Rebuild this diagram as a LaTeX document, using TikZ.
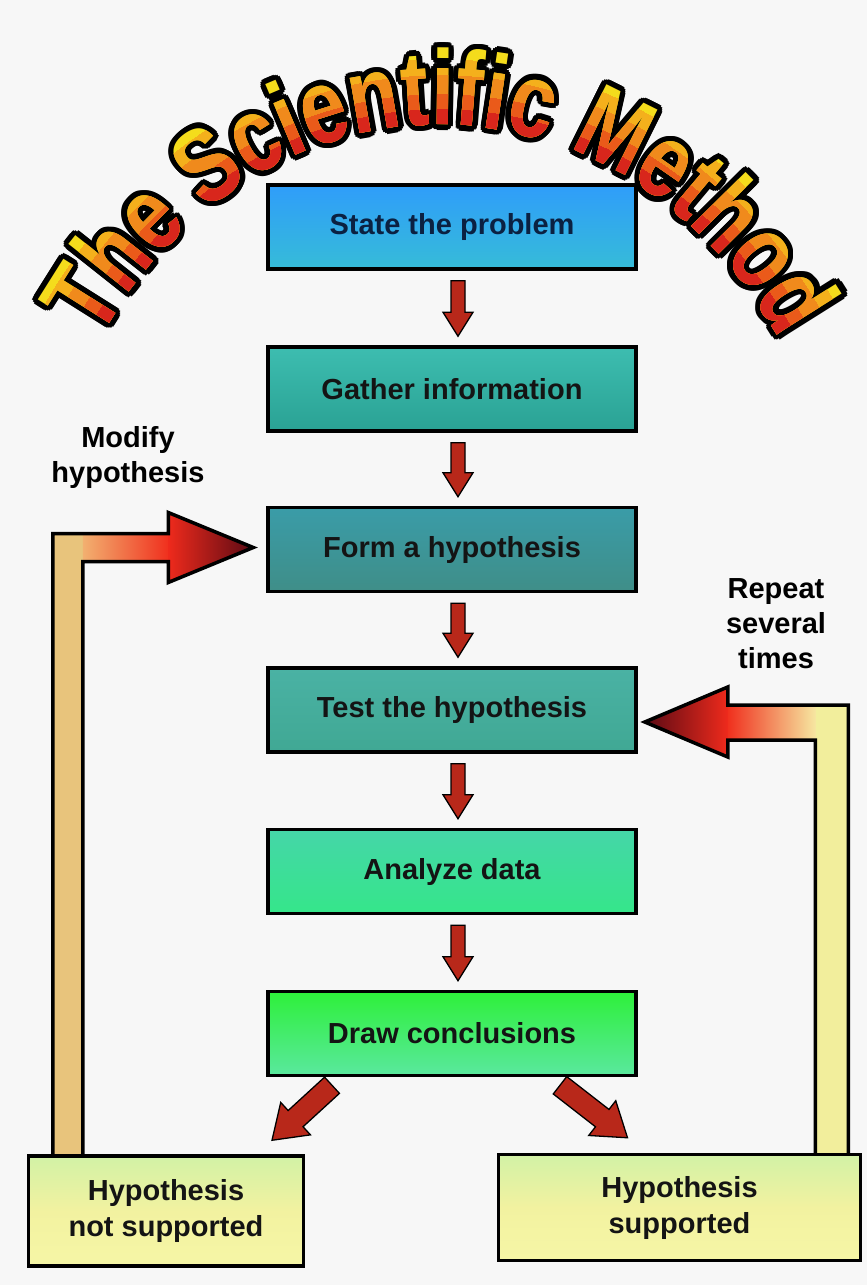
\documentclass[tikz,border=0pt]{standalone}
\usepackage{fontspec}
\setmainfont{Liberation Sans}
\newfontfamily\titlefont[FakeStretch=0.77]{Liberation Sans}
\usetikzlibrary{calc,decorations.text}
\definecolor{bg}{HTML}{F7F7F7}
\definecolor{arrred}{HTML}{B8281A}
\definecolor{tanbar}{HTML}{E8C47C}
\definecolor{yelbar}{HTML}{F2EE9C}
\definecolor{ttlyel}{HTML}{F4DC1C}
\definecolor{ttlyo}{HTML}{F4B01C}
\definecolor{ttlorg}{HTML}{F08A1C}
\definecolor{ttlro}{HTML}{EA5A1A}
\definecolor{ttlred}{HTML}{D8261C}
\definecolor{endtop}{HTML}{D2F2A6}
\definecolor{endbot}{HTML}{F6F6A6}
\definecolor{endmid}{HTML}{F2F2A0}
\definecolor{aT}{HTML}{2F9DFA}\definecolor{aB}{HTML}{36BCD8}\definecolor{aX}{HTML}{0B2142}
\definecolor{bT}{HTML}{3DBDB0}\definecolor{bB}{HTML}{2AA294}
\definecolor{cT}{HTML}{3A9CA8}\definecolor{cB}{HTML}{3F8E88}
\definecolor{dT}{HTML}{4AB2A4}\definecolor{dB}{HTML}{40A894}
\definecolor{eT}{HTML}{45D6A8}\definecolor{eB}{HTML}{35E68A}
\definecolor{fT}{HTML}{2EF03A}\definecolor{fB}{HTML}{5AE89E}
\definecolor{peach}{HTML}{F2B070}
\definecolor{hred}{HTML}{F0301E}
\definecolor{headred}{HTML}{EE2A1C}
\definecolor{headdark}{HTML}{5A0A14}
\definecolor{paleyel}{HTML}{F6E6A0}
\tikzset{
  stepbox/.style={draw=black, line width=3.5pt, minimum width=368pt, minimum height=84pt,
    inner sep=0pt, font=\bfseries\fontsize{29}{34}\selectfont, text=black!92},
  endshape/.style={line width=3.5pt, inner sep=0pt},
  endbox/.style={endshape, draw=black, align=center,
    top color=endtop, bottom color=endbot, middle color=endmid,
    font=\bfseries\fontsize{29}{36}\selectfont, text=black!92},
  lbl/.style={font=\bfseries\fontsize{29}{35}\selectfont, align=center, text=black},
  smallarrow/.style={fill=arrred, draw=black, line width=1.3pt, line join=miter},
  bigoutline/.style={draw=black, line width=3.5pt, line join=miter},
}
\newcommand\fatarrow[5]{%
  \coordinate (fa-s) at (#1);
  \coordinate (fa-e) at (#2);
  \coordinate (fa-h) at ($(fa-e)!#5!(fa-s)$);
  \draw[smallarrow] ($(fa-s)!#3!90:(fa-e)$) -- ($(fa-h)!#3!90:(fa-e)$) -- ($(fa-h)!#4!90:(fa-e)$)
    -- (fa-e) -- ($(fa-h)!#4!-90:(fa-e)$) -- ($(fa-h)!#3!-90:(fa-e)$) -- ($(fa-s)!#3!-90:(fa-e)$) -- cycle;}
\newcommand\sciTitle[1]{%
  \path[decorate, decoration={text along path, text align=center, text color=#1,
    text={|\titlefont\bfseries\fontsize{106}{106}\selectfont|The Scientific Method}}]
    (440,-595) ++(170:405 and 470) arc[start angle=170, end angle=10, x radius=405, y radius=470];}
\newcommand\titleband[2]{\begin{scope}\clip (440,-595) ellipse [x radius=405+#1, y radius=470+#1]; \sciTitle{#2}\end{scope}}
\begin{document}
\begin{tikzpicture}[x=1pt,y=-1pt]
\useasboundingbox (0,0) rectangle (867,1285);
\fill[bg] (0,0) rectangle (867,1285);

% title
\begin{scope}[y=1pt]
  \foreach \a in {0,22.5,...,337.5} {
    \begin{scope}[shift={(\a:5.5)}]\sciTitle{black}\end{scope}
  }
  \sciTitle{ttlyel}
  \titleband{66}{ttlyo}
  \titleband{50}{ttlorg}
  \titleband{31}{ttlro}
  \titleband{16}{ttlred}
\end{scope}

% main steps
\node[stepbox, top color=aT, bottom color=aB, text=aX] (b1) at (452,227) {State the problem};
\node[stepbox, top color=bT, bottom color=bB] (b2) at (452,389) {Gather information};
\node[stepbox, top color=cT, bottom color=cB] (b3) at (452,549.5) {Form a hypothesis};
\node[stepbox, top color=dT, bottom color=dB] (b4) at (452,710) {Test the hypothesis};
\node[stepbox, top color=eT, bottom color=eB] (b5) at (452,871.5) {Analyze data};
\node[stepbox, top color=fT, bottom color=fB] (b6) at (452,1033.5) {Draw conclusions};

% labels
\node[lbl] (mod) at (128,457) {Modify\\hypothesis};
\node[lbl] (rep) at (776,624) {Repeat\\several\\times};

% end box positions (outlines placed first so arrows can reference them)
\coordinate (blc) at (166,1211);
\coordinate (brc) at (679.5,1207.5);
\node[endshape, minimum width=275pt, minimum height=110pt] (blpos) at (blc) {};
\node[endshape, minimum width=362pt, minimum height=106pt] (brpos) at (brc) {};

% left big arrow (modify hypothesis)
\coordinate (lt) at ($(b3.west)+(-13,-2)$);
\coordinate (lc1) at ($(lt)+(-85,-14)$);
\coordinate (lc2) at ($(lt)+(-85,14)$);
\coordinate (lh1) at ($(lt)+(-85,-35)$);
\coordinate (lh2) at ($(lt)+(-85,35)$);
\coordinate (lb1) at ($(blpos.north west)+(26,6)$);
\coordinate (lb2) at ($(blpos.north west)+(56,6)$);
\fill[tanbar] (lb1) |- (lc1) -- (lh1) -- (lt) -- (lh2) -- (lc2) -| (lb2) -- cycle;
\fill[left color=peach, right color=hred] (lb2 |- lc1) rectangle (lc2);
\fill[left color=headred, right color=headdark] (lh1) -- (lt) -- (lh2) -- cycle;
\draw[bigoutline] (lb1) |- (lc1) -- (lh1) -- (lt) -- (lh2) -- (lc2) -| (lb2) -- cycle;

% right big arrow (repeat)
\coordinate (rt) at ($(b4.east)+(7,12)$);
\coordinate (rc1) at ($(rt)+(83,-17)$);
\coordinate (rc2) at ($(rt)+(83,18)$);
\coordinate (rh1) at ($(rt)+(83,-35)$);
\coordinate (rh2) at ($(rt)+(83,35)$);
\coordinate (rb1) at ($(brpos.north east)+(-14,6)$);
\coordinate (rb2) at ($(brpos.north east)+(-47,6)$);
\fill[yelbar] (rb1) |- (rc1) -- (rh1) -- (rt) -- (rh2) -- (rc2) -| (rb2) -- cycle;
\fill[left color=hred, right color=paleyel] (rc1) rectangle (rb2 |- rc2);
\fill[left color=headdark, right color=headred] (rh1) -- (rt) -- (rh2) -- cycle;
\draw[bigoutline] (rb1) |- (rc1) -- (rh1) -- (rt) -- (rh2) -- (rc2) -| (rb2) -- cycle;

% end boxes on top
\node[endbox, minimum width=275pt, minimum height=110pt] (bl) at (blc) {Hypothesis\\not supported};
\node[endbox, minimum width=362pt, minimum height=106pt] (br) at (brc) {Hypothesis\\supported};

% small arrows
\fatarrow{$(b1.south)+(6,10)$}{$(b2.north)+(6,-9)$}{7pt}{15pt}{24pt}
\fatarrow{$(b2.south)+(6,10)$}{$(b3.north)+(6,-9)$}{7pt}{15pt}{24pt}
\fatarrow{$(b3.south)+(6,10)$}{$(b4.north)+(6,-9)$}{7pt}{15pt}{24pt}
\fatarrow{$(b4.south)+(6,10)$}{$(b5.north)+(6,-9)$}{7pt}{15pt}{24pt}
\fatarrow{$(b5.south)+(6,10)$}{$(b6.north)+(6,-9)$}{7pt}{15pt}{24pt}
\fatarrow{$(b6.south)+(-120,8)$}{$(bl.north)+(106,-14)$}{11pt}{22pt}{32pt}
\fatarrow{$(b6.south)+(108,8)$}{$(br.north)+(-52,-15)$}{11pt}{22pt}{32pt}
\end{tikzpicture}
\end{document}
